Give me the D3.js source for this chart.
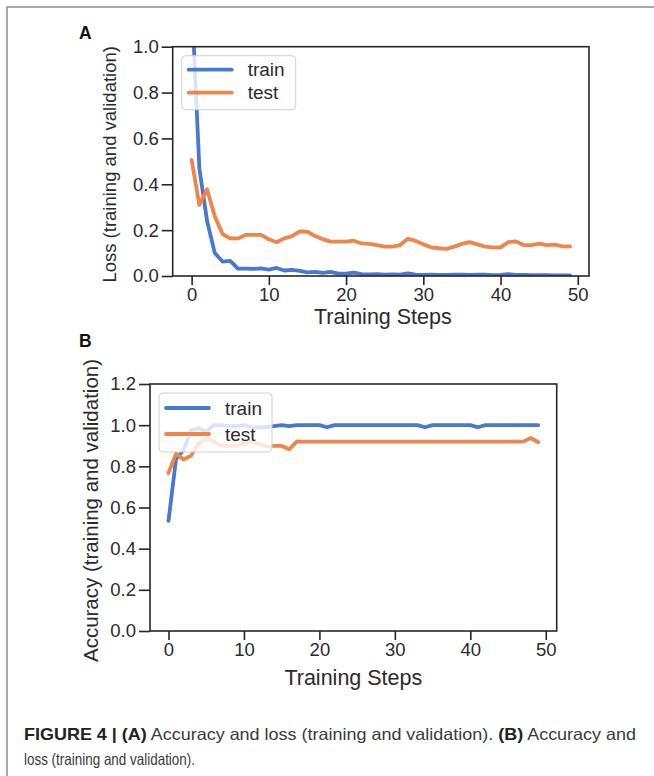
<!DOCTYPE html>
<html>
<head>
<meta charset="utf-8">
<script src="https://cdn.jsdelivr.net/npm/d3@7"></script>
<style>
  body { margin: 0; background: #fff; }
  svg { display: block; font-family: "Liberation Sans", Arial, sans-serif; }
</style>
</head>
<body>
<svg id="fig"></svg>
<script>
'use strict';

// tick labels
const stepTicks = [0, 10, 20, 30, 40, 50];
const lossTicks = [0, 0.2, 0.4, 0.6, 0.8, 1.0];
const accTicks = [0, 0.2, 0.4, 0.6, 0.8, 1.0, 1.2];
const seriesNames = ["train", "test"];

// panel A : loss per training step
const lossTrain = [1.22, 0.47, 0.24, 0.10, 0.063, 0.066, 0.032, 0.032, 0.031, 0.033,
  0.028, 0.035, 0.024, 0.027, 0.022, 0.016, 0.018, 0.014, 0.018, 0.010,
  0.010, 0.015, 0.008, 0.007, 0.008, 0.006, 0.007, 0.006, 0.011, 0.006,
  0.005, 0.006, 0.005, 0.005, 0.006, 0.006, 0.005, 0.006, 0.006, 0.004,
  0.005, 0.008, 0.005, 0.005, 0.004, 0.004, 0.004, 0.003, 0.003, 0.003];
const lossTest = [0.506, 0.31, 0.378, 0.26, 0.183, 0.164, 0.164, 0.179, 0.179, 0.179,
  0.16, 0.147, 0.164, 0.174, 0.195, 0.193, 0.174, 0.16, 0.15, 0.15,
  0.15, 0.154, 0.142, 0.14, 0.135, 0.128, 0.128, 0.135, 0.163, 0.153,
  0.138, 0.125, 0.121, 0.118, 0.128, 0.14, 0.148, 0.138, 0.128, 0.125,
  0.125, 0.148, 0.151, 0.135, 0.135, 0.141, 0.135, 0.137, 0.129, 0.129];

// panel B : accuracy per training step
const accTrain = [0.535, 0.835, 0.88, 0.975, 0.985, 0.968, 1.0, 1.0, 0.995, 0.995,
  1.0, 0.99, 0.99, 0.99, 0.995, 1.0, 0.995, 1.0, 1.0, 1.0,
  1.0, 0.99, 1.0, 1.0, 1.0, 1.0, 1.0, 1.0, 1.0, 1.0,
  1.0, 1.0, 1.0, 1.0, 0.99, 1.0, 1.0, 1.0, 1.0, 1.0,
  1.0, 0.99, 1.0, 1.0, 1.0, 1.0, 1.0, 1.0, 1.0, 1.0];
const accTest = [0.768, 0.862, 0.833, 0.852, 0.912, 0.935, 0.92, 0.899, 0.899, 0.899,
  0.912, 0.92, 0.909, 0.896, 0.899, 0.899, 0.883, 0.92, 0.92, 0.92,
  0.92, 0.92, 0.92, 0.92, 0.92, 0.92, 0.92, 0.92, 0.92, 0.92,
  0.92, 0.92, 0.92, 0.92, 0.92, 0.92, 0.92, 0.92, 0.92, 0.92,
  0.92, 0.92, 0.92, 0.92, 0.92, 0.92, 0.92, 0.92, 0.938, 0.917];

// layout
const CONFIG = {
  width: 654,
  height: 776,
  colors: ["#4878d0", "#ee854a"],
  ink: "#262626",
  lineWidth: 3.8,
  tickFont: 18.5,
  xDomain: [-2.45, 51.45]
};

const panels = [
  { id: "A", letter: "A", letterX: 79, letterY: 39,
    left: 172.7, right: 589, top: 46.7, bottom: 276,
    yDomain: [0, 1.0], yTicks: lossTicks, series: [lossTrain, lossTest],
    ylabel: "Loss (training and validation)", ylabelX: 110, ylabelSize: 18.5,
    xlabelY: 324, xlabelShift: 2, legend: { w: 114, h: 54, row1: 14, gap: 23 } },
  { id: "B", letter: "B", letterX: 79, letterY: 347,
    left: 150, right: 556.7, top: 384, bottom: 631,
    yDomain: [0, 1.2], yTicks: accTicks, series: [accTrain, accTest],
    ylabel: "Accuracy (training and validation)", ylabelX: 91, ylabelSize: 20.5,
    xlabelY: 685, xlabelShift: 0, legend: { w: 113, h: 59, row1: 15, gap: 26 } }
];

const svg = d3.select("#fig")
  .attr("width", CONFIG.width)
  .attr("height", CONFIG.height);

svg.append("rect")
  .attr("width", CONFIG.width)
  .attr("height", CONFIG.height)
  .attr("fill", "#fff");

// outer frame of the figure box
svg.append("path")
  .attr("d", "M7,776V7H654")
  .attr("fill", "none")
  .attr("stroke", "#8c8c8c")
  .attr("stroke-width", 1.5);

panels.forEach(drawPanel);

function drawPanel(p) {
  const x = d3.scaleLinear().domain(CONFIG.xDomain).range([p.left, p.right]);
  const y = d3.scaleLinear().domain(p.yDomain).range([p.bottom, p.top]);
  const g = svg.append("g");

  g.append("clipPath").attr("id", "clip" + p.id)
    .append("rect")
    .attr("x", p.left).attr("y", p.top)
    .attr("width", p.right - p.left).attr("height", p.bottom - p.top);

  // axes
  const yAxis = g.append("g")
    .attr("transform", `translate(${p.left},0)`)
    .call(d3.axisLeft(y).tickValues(p.yTicks).tickSize(11).tickPadding(3)
      .tickFormat(d3.format(".1f")));
  const xAxis = g.append("g")
    .attr("transform", `translate(0,${p.bottom})`)
    .call(d3.axisBottom(x).tickValues(stepTicks).tickSize(9).tickPadding(3)
      .tickFormat(d3.format("d")));

  [yAxis, xAxis].forEach(a => {
    a.attr("font-family", null).attr("font-size", CONFIG.tickFont);
    a.select(".domain").remove();
    a.selectAll(".tick line").attr("stroke", CONFIG.ink).attr("stroke-width", 1.6);
    a.selectAll(".tick text").attr("fill", "#2b2b2b");
  });

  // lines
  const line = d3.line().x((d, i) => x(i)).y(d => y(d));
  const lines = g.append("g").attr("clip-path", `url(#clip${p.id})`);
  p.series.forEach((s, k) => {
    lines.append("path")
      .datum(s)
      .attr("d", line)
      .attr("fill", "none")
      .attr("stroke", CONFIG.colors[k])
      .attr("stroke-width", CONFIG.lineWidth)
      .attr("stroke-linejoin", "round")
      .attr("stroke-linecap", "round");
  });

  // spines
  g.append("rect")
    .attr("x", p.left).attr("y", p.top)
    .attr("width", p.right - p.left).attr("height", p.bottom - p.top)
    .attr("fill", "none")
    .attr("stroke", CONFIG.ink)
    .attr("stroke-width", 1.6);

  // legend
  const lg = p.legend;
  const lx = p.left + 9, ly = p.top + 9;
  g.append("rect")
    .attr("x", lx).attr("y", ly)
    .attr("width", lg.w).attr("height", lg.h)
    .attr("rx", 4)
    .attr("fill", "#fff").attr("fill-opacity", 0.8)
    .attr("stroke", "#d0d0d0").attr("stroke-width", 1);
  seriesNames.forEach((name, k) => {
    const ry = ly + lg.row1 + k * lg.gap;
    g.append("line")
      .attr("x1", lx + 7).attr("x2", lx + 50)
      .attr("y1", ry).attr("y2", ry)
      .attr("stroke", CONFIG.colors[k])
      .attr("stroke-width", CONFIG.lineWidth)
      .attr("stroke-linecap", "round");
    g.append("text")
      .attr("x", lx + 66).attr("y", ry)
      .attr("dy", "0.35em")
      .attr("font-size", 19)
      .attr("fill", "#2b2b2b")
      .text(name);
  });

  // axis labels
  g.append("text")
    .attr("x", (p.left + p.right) / 2 + p.xlabelShift)
    .attr("y", p.xlabelY)
    .attr("text-anchor", "middle")
    .attr("font-size", 21.5)
    .attr("fill", "#2b2b2b")
    .text("Training Steps");

  g.append("text")
    .attr("transform", `translate(${p.ylabelX},${(p.top + p.bottom) / 2 + 3}) rotate(-90)`)
    .attr("text-anchor", "middle")
    .attr("dy", "0.35em")
    .attr("font-size", p.ylabelSize)
    .attr("fill", "#2b2b2b")
    .text(p.ylabel);

  // panel letter
  svg.append("text")
    .attr("x", p.letterX).attr("y", p.letterY)
    .attr("font-size", 17.5)
    .attr("font-weight", "bold")
    .attr("fill", "#111")
    .text(p.letter);
}

// caption
const cap1 = svg.append("text")
  .attr("x", 24).attr("y", 740)
  .attr("font-size", 16.5)
  .attr("fill", "#3a3a3a")
  .attr("textLength", 612)
  .attr("lengthAdjust", "spacingAndGlyphs");
cap1.append("tspan").attr("font-weight", "bold").attr("fill", "#222").text("FIGURE 4 | (A)");
cap1.append("tspan").text(" Accuracy and loss (training and validation). ");
cap1.append("tspan").attr("font-weight", "bold").attr("fill", "#222").text("(B)");
cap1.append("tspan").text(" Accuracy and");

svg.append("text")
  .attr("x", 24).attr("y", 765)
  .attr("font-size", 16.5)
  .attr("fill", "#3a3a3a")
  .attr("textLength", 171)
  .attr("lengthAdjust", "spacingAndGlyphs")
  .text("loss (training and validation).");
</script>
</body>
</html>
